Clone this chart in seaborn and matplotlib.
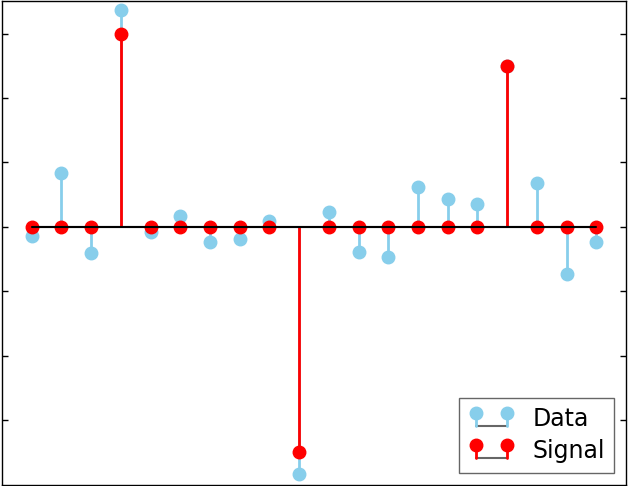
import matplotlib
matplotlib.use("Agg")
import matplotlib.pyplot as plt
import seaborn as sns
import numpy as np
from matplotlib.container import StemContainer
from matplotlib.legend_handler import HandlerBase
from matplotlib.lines import Line2D

sns.set_style("white")
plt.rcParams['font.family'] = ['DejaVu Sans']
plt.rcParams['text.color'] = 'black'

x = list(range(20))
data = [-0.14, 0.83, -0.40, 3.37, -0.08, 0.17, -0.24, -0.19, 0.09, -3.84,
        0.23, -0.39, -0.47, 0.62, 0.44, 0.35, 2.50, 0.68, -0.73, -0.24]
signal = [0, 0, 0, 3.0, 0, 0, 0, 0, 0, -3.5,
          0, 0, 0, 0, 0, 0, 2.5, 0, 0, 0]
yticks = [-3, -2, -1, 0, 1, 2, 3]


class TwoStemHandler(HandlerBase):
    """Legend key: two stems with markers joined by a short baseline."""

    def create_artists(self, legend, orig_handle, xdescent, ydescent,
                       width, height, fontsize, trans):
        x0 = -xdescent
        xs = [x0 + 0.17 * width, x0 + 0.89 * width]
        ybot = -ydescent
        ytop = ybot + 0.8 * height
        mline = orig_handle.markerline
        scol = orig_handle.stemlines.get_color()[0]
        base = Line2D(xs, [ybot, ybot], color='0.4', lw=1.5, transform=trans)
        stems = [Line2D([xx, xx], [ybot, ytop], color=scol, lw=2, transform=trans)
                 for xx in xs]
        marks = Line2D(xs, [ytop, ytop], linestyle='none', marker='o',
                       color=mline.get_color(), markersize=mline.get_markersize(),
                       transform=trans)
        return [base] + stems + [marks]


fig = plt.figure(figsize=(6.28, 4.86), dpi=100)
ax = fig.add_axes([0.003, 0.003, 0.994, 0.994])

d = ax.stem(x, data, linefmt='-', markerfmt='o', basefmt='k-', label='Data')
d.markerline.set_color('skyblue')
d.markerline.set_markersize(9)
d.stemlines.set_color('skyblue')
d.stemlines.set_linewidth(2)
d.baseline.set_color('0.45')
d.baseline.set_linewidth(1.5)

s = ax.stem(x, signal, linefmt='-', markerfmt='o', basefmt='k-', label='Signal')
s.markerline.set_color('red')
s.markerline.set_markersize(9)
s.stemlines.set_color('red')
s.stemlines.set_linewidth(2)
s.baseline.set_color('black')
s.baseline.set_linewidth(1.5)

ax.set_xlim(-1, 20)
ax.set_ylim(-4, 3.5)
ax.set_xticks([])
ax.set_yticks(yticks)
ax.set_yticklabels([])
ax.tick_params(axis='y', direction='in', left=True, right=True, length=4, width=1, color='black')
for sp in ax.spines.values():
    sp.set_color('black')
    sp.set_linewidth(1)

leg = ax.legend(loc='lower right', fontsize=17, frameon=True, fancybox=False,
                edgecolor='0.25', borderaxespad=0.5, handlelength=1.85,
                handletextpad=0.85, labelspacing=0.35,
                handler_map={StemContainer: TwoStemHandler()})
leg.get_frame().set_linewidth(1)

fig.savefig("out.png", dpi=100)
